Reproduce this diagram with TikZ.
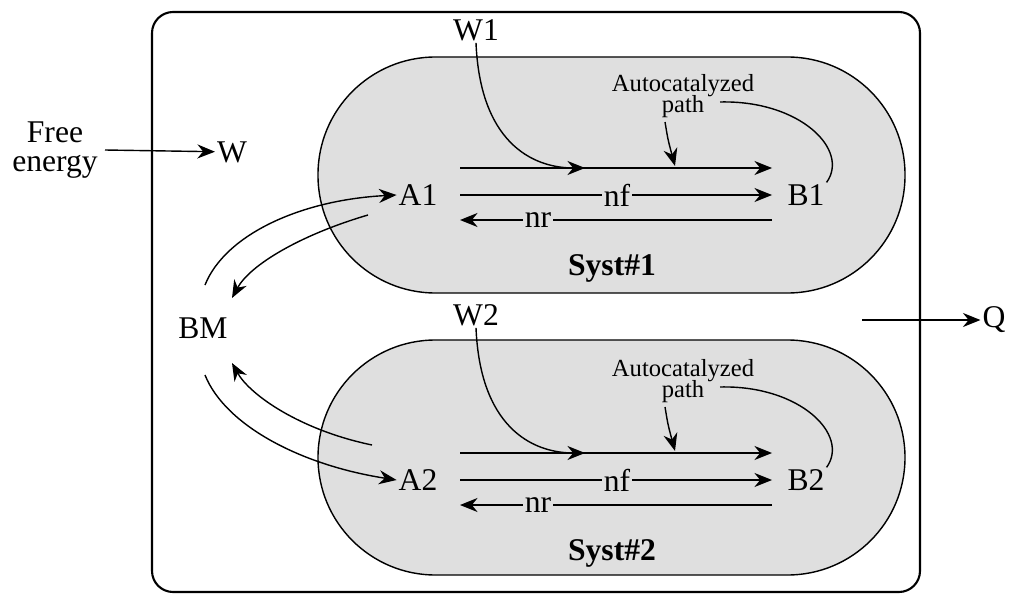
\documentclass[tikz,border=0pt]{standalone}
\usepackage{fontspec}
\setmainfont{Liberation Serif}
\usetikzlibrary{arrows.meta}
\tikzset{
lbl/.style={
  inner sep=1pt,
  font=\fontsize{18}{20}\selectfont
  },
small/.style={
  inner sep=1pt, align=center,
  font=\fontsize{14}{14}\selectfont
  },
syst/.style={
  draw=black, thick, fill=gray!25, rounded corners=2.35cm
  }
}
\tikzstyle{arr} = [draw,thick,-{Stealth[length=10pt,width=8pt]}]
\tikzstyle{ln} = [draw,thick]
\begin{document}
\begin{tikzpicture}[x=0.02cm, y=-0.02cm]
	\path[use as bounding box] (0,0) rectangle (1024,608);
	%boxes
	\draw[very thick, rounded corners=12pt] (152,12) rectangle (920,592);
	\path[syst] (318,57) rectangle (905,293);
	\path[syst] (318,340) rectangle (905,575);
	%outside
	\node (fe) at (55,150) [lbl, align=center] {Free\\[-3pt]energy};
	\node (w) at (232,152) [lbl] {W};
	\node (q) at (994,320) [lbl] {Q};
	\node (bm) at (203,328) [lbl] {BM};
	\coordinate (qs) at (862,320);
	\draw[arr] (105,150) -- (w);
	\draw[arr] (qs) -- (q);
	%systems
	\foreach \i/\dy in {1/0,2/285} {
		\node (w\i) at (476,30+\dy) [lbl] {W\i};
		\node (a\i) at (418,195+\dy) [lbl] {A\i};
		\node (b\i) at (806,195+\dy) [lbl] {B\i};
		\node (s\i) at (612,268+\dy) [lbl, font=\fontsize{18}{20}\selectfont\bfseries] {Syst\#\i};
		\node (ap\i) at (683,96+\dy) [small] {Autocatalyzed\\[-2pt]path};
		\node (nf\i) at (617,195+\dy) [lbl, fill=gray!25] {nf};
		\node (nr\i) at (538,220+\dy) [lbl, fill=gray!25] {nr};
		\coordinate (t0\i) at (460,168+\dy);
		\coordinate (tm\i) at (585,168+\dy);
		\coordinate (t1\i) at (772,168+\dy);
		\coordinate (f0\i) at (460,195+\dy);
		\coordinate (f1\i) at (772,195+\dy);
		\coordinate (r0\i) at (460,220+\dy);
		\coordinate (r1\i) at (772,220+\dy);
		\draw[arr] (t0\i) -- (t1\i);
		\draw[arr] (w\i.south) .. controls (480,140+\dy) and (530,168+\dy) .. (tm\i);
		\draw[ln] (f0\i) -- (nf\i);
		\draw[arr] (nf\i) -- (f1\i);
		\draw[ln] (r1\i) -- (nr\i);
		\draw[arr] (nr\i) -- (r0\i);
		\draw[ln] (720,102+\dy) .. controls (800,100+\dy) and (850,150+\dy) .. (b\i.north east);
		\draw[arr] (665,122+\dy) .. controls (668,140+\dy) .. (675,166+\dy);
	}
	%exchange with BM
	\draw[arr] (205,285) .. controls (225,235) and (300,200) .. (a1.west);
	\draw[arr] (368,215) .. controls (300,235) and (250,265) .. (232,298);
	\draw[arr] (372,445) .. controls (300,430) and (250,395) .. (232,363);
	\draw[arr] (205,375) .. controls (225,425) and (300,465) .. (a2.west);
\end{tikzpicture}
\end{document}
